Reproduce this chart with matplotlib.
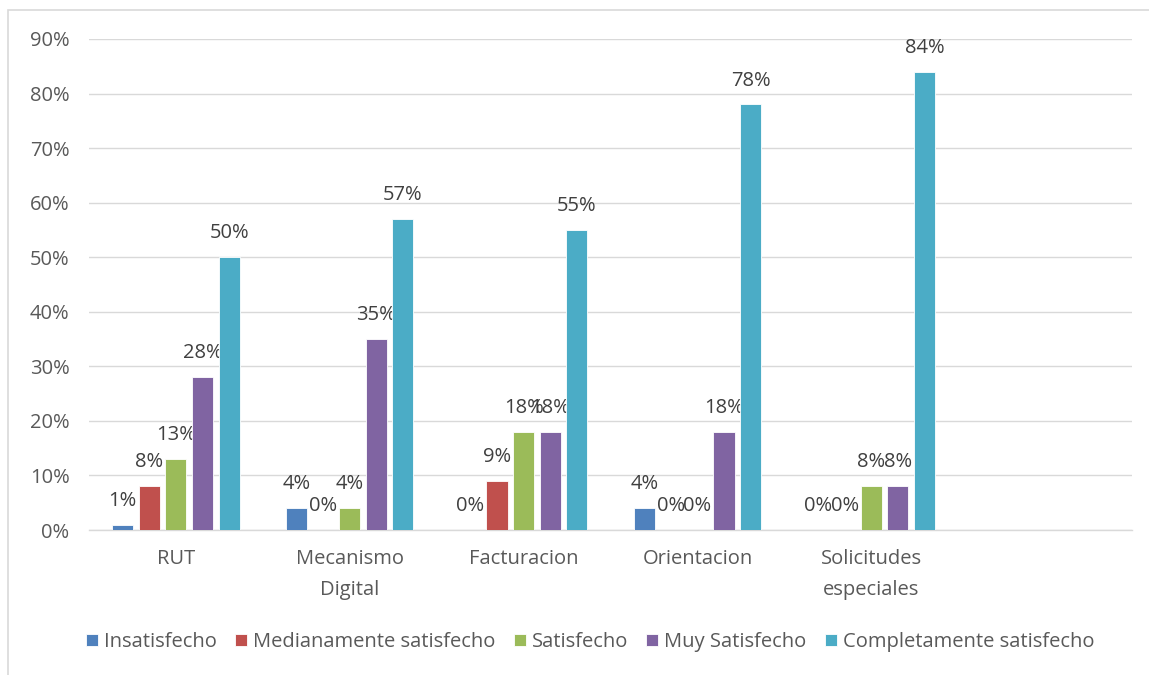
import numpy as np
import matplotlib
matplotlib.use('Agg')
import matplotlib.pyplot as plt
import matplotlib.patches as patches

plt.rcParams['font.family'] = ['Open Sans', 'DejaVu Sans']

categories = ['RUT', 'Mecanismo\nDigital', 'Facturacion', 'Orientacion', 'Solicitudes\nespeciales', '']
series_names = ['Insatisfecho', 'Medianamente satisfecho', 'Satisfecho', 'Muy Satisfecho', 'Completamente satisfecho']
insatisfecho = [0.01, 0.04, 0.00, 0.04, 0.00]
medianamente = [0.08, 0.00, 0.09, 0.00, 0.00]
satisfecho = [0.13, 0.04, 0.18, 0.00, 0.08]
muy_satisfecho = [0.28, 0.35, 0.18, 0.18, 0.08]
completamente = [0.50, 0.57, 0.55, 0.78, 0.84]
series = [insatisfecho, medianamente, satisfecho, muy_satisfecho, completamente]
colors = ['#4F81BD', '#C0504D', '#9BBB59', '#8064A2', '#4BACC6']

FS = 14.5

fig = plt.figure(figsize=(11.49, 6.75), dpi=100)
ax = fig.add_axes([89/1149, 1-530/675, (1132-89)/1149, (530-39)/675])

# chart frame
fig.patches.append(patches.Rectangle((8/1149, -0.1), 1.2, 1-10/675+0.1, transform=fig.transFigure,
                                     fill=False, edgecolor='#D9D9D9', linewidth=1.2))

n = len(series[0])
x = np.arange(n)
step = 0.153
width = 0.121
for i, (vals, name, c) in enumerate(zip(series, series_names, colors)):
    pos = x + (i - 2) * step
    bars = ax.bar(pos, vals, width, color=c, edgecolor='white', linewidth=0.6, label=name, zorder=3)
    ax.bar_label(bars, labels=[f'{round(v*100)}%' for v in vals], padding=10,
                 fontsize=FS, color='#404040')

ax.set_xlim(-0.5, 5.5)
ax.set_ylim(0, 0.9)
ax.set_yticks(np.arange(0, 0.91, 0.1))
ax.set_yticklabels([f'{int(round(t*100))}%' for t in np.arange(0, 0.91, 0.1)])
ax.set_xticks(np.arange(6))
ax.set_xticklabels(categories, va='top', linespacing=1.7)
ax.tick_params(axis='both', length=0, labelsize=FS, labelcolor='#595959')
ax.tick_params(axis='y', pad=14)
ax.tick_params(axis='x', pad=14)
ax.grid(axis='y', color='#D9D9D9', linewidth=1, zorder=0)
ax.set_axisbelow(True)
for s in ['top', 'right', 'left']:
    ax.spines[s].set_visible(False)
ax.spines['bottom'].set_color('#D9D9D9')
ax.spines['bottom'].set_linewidth(1)

fig.legend(loc='center', bbox_to_anchor=(590/1149, 1-642/675), ncol=5, frameon=False,
           handlelength=0.6, handleheight=0.6, columnspacing=0.9, handletextpad=0.3,
           fontsize=FS, labelcolor='#595959')

fig.savefig('out.png', dpi=100)
